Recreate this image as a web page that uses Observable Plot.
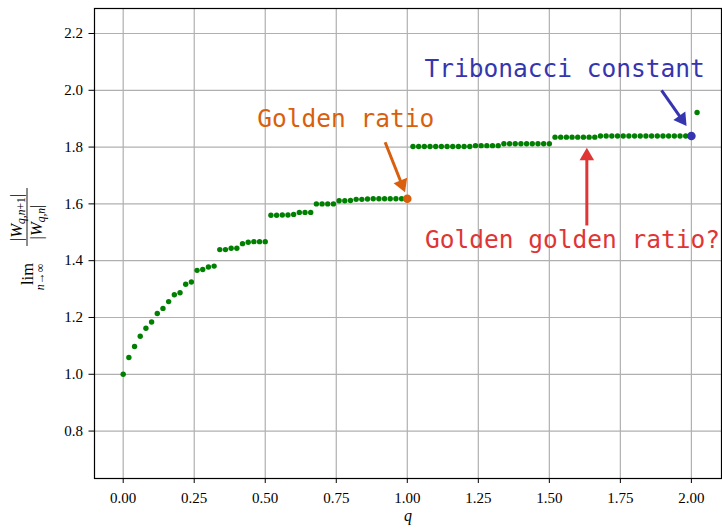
<!DOCTYPE html>
<html>
<head>
<meta charset="utf-8">
<script src="https://cdn.jsdelivr.net/npm/d3@7"></script>
<script src="https://cdn.jsdelivr.net/npm/@observablehq/plot@0.6"></script>
<style>
  html, body { margin: 0; padding: 0; background: white; overflow: hidden; }
  #chart { width: 722px; height: 530px; }
</style>
</head>
<body>
<div id="chart"></div>
<script>
// ---- data ----
const q = [0, 0.02, 0.04, 0.06, 0.08, 0.1, 0.12, 0.14, 0.16, 0.18, 0.2, 0.22, 0.24, 0.26, 0.28, 0.3, 0.32, 0.34, 0.36, 0.38, 0.4, 0.42, 0.44, 0.46, 0.48, 0.5,
  0.52, 0.54, 0.56, 0.58, 0.6, 0.62, 0.64, 0.66, 0.68, 0.7, 0.72, 0.74, 0.76, 0.78, 0.8, 0.82, 0.84, 0.86, 0.88, 0.9, 0.92, 0.94, 0.96, 0.98, 1.0,
  1.02, 1.04, 1.06, 1.08, 1.1, 1.12, 1.14, 1.16, 1.18, 1.2, 1.22, 1.24, 1.26, 1.28, 1.3, 1.32,
  1.34, 1.36, 1.38, 1.4, 1.42, 1.44, 1.46, 1.48, 1.5,
  1.52, 1.54, 1.56, 1.58, 1.6, 1.62, 1.64, 1.66,
  1.68, 1.7, 1.72, 1.74, 1.76, 1.78, 1.8, 1.82, 1.84, 1.86, 1.88, 1.9, 1.92, 1.94, 1.96, 1.98, 2.0,
  2.02];
const ratio = [1.000, 1.059, 1.098, 1.134, 1.162, 1.184, 1.214, 1.232, 1.256, 1.280, 1.287, 1.317, 1.325, 1.366, 1.369, 1.378, 1.381, 1.439, 1.439, 1.444, 1.444, 1.460, 1.465, 1.467, 1.467, 1.467,
  1.560, 1.560, 1.561, 1.561, 1.563, 1.570, 1.570, 1.570, 1.600, 1.600, 1.600, 1.600, 1.611, 1.611, 1.612, 1.616, 1.616, 1.617, 1.618, 1.618, 1.618, 1.618, 1.618, 1.618, 1.618,
  1.802, 1.802, 1.802, 1.802, 1.802, 1.802, 1.802, 1.802, 1.802, 1.802, 1.802, 1.805, 1.805, 1.805, 1.805, 1.805,
  1.812, 1.812, 1.812, 1.812, 1.812, 1.812, 1.812, 1.812, 1.812,
  1.835, 1.835, 1.835, 1.835, 1.835, 1.835, 1.835, 1.835,
  1.839, 1.839, 1.839, 1.839, 1.839, 1.839, 1.839, 1.839, 1.839, 1.839, 1.839, 1.839, 1.839, 1.839, 1.839, 1.839, 1.839,
  1.922];

const highlightQ = [1.0, 2.0];
const highlightRatio = [1.618, 1.839];
const highlightColor = ["#d95f0e", "#3535b0"];

const annoText = ["Golden ratio", "Tribonacci constant", "Golden golden ratio?"];
const annoX = [0.7835, 1.5535, 1.5817];
const annoY = [1.900, 2.073, 1.474];
const annoColor = ["#d95f0e", "#3535b0", "#e03535"];

const arrowTailX = [0.922, 1.895, 1.632];
const arrowTailY = [1.817, 2.000, 1.524];
const arrowTipX = [0.992, 1.983, 1.632];
const arrowTipY = [1.641, 1.874, 1.798];
const arrowColor = ["#d95f0e", "#3535b0", "#e03535"];

const xTicks = [0, 0.25, 0.5, 0.75, 1.0, 1.25, 1.5, 1.75, 2.0];
const yTicks = [0.8, 1.0, 1.2, 1.4, 1.6, 1.8, 2.0, 2.2];

// ---- tables ----
const points = q.map((v, i) => ({q: v, r: ratio[i]}));
const highlights = highlightQ.map((v, i) => ({q: v, r: highlightRatio[i], color: highlightColor[i]}));
const annos = annoText.map((t, i) => ({text: t, x: annoX[i], y: annoY[i], color: annoColor[i]}));
const PX = 1 / 284.1; // data units per pixel (equal aspect on both axes)
const arrows = arrowTailX.map((x1, i) => {
  const y1 = arrowTailY[i], x2 = arrowTipX[i], y2 = arrowTipY[i];
  const dx = x2 - x1, dy = y2 - y1, len = Math.hypot(dx, dy);
  const ux = dx / len, uy = dy / len;
  return {
    x1, y1, color: arrowColor[i],
    sx: x2 - ux * 10 * PX, sy: y2 - uy * 10 * PX,
    hx: x2 - ux * 8.4 * PX, hy: y2 - uy * 8.4 * PX,
    rot: Math.atan2(ux, uy) * 180 / Math.PI
  };
});

const svg = Plot.plot({
  width: 722,
  height: 530,
  marginLeft: 94,
  marginRight: 1,
  marginTop: 8,
  marginBottom: 52,
  x: {domain: [-0.101, 2.106]},
  y: {domain: [0.633, 2.288]},
  color: {type: "identity"},
  style: {fontFamily: "'Liberation Serif', 'DejaVu Serif', serif", fontSize: "15px", background: "white", color: "black"},
  marks: [
    Plot.gridX(xTicks, {stroke: "#b0b0b0", strokeOpacity: 1, strokeWidth: 1.2}),
    Plot.gridY(yTicks, {stroke: "#b0b0b0", strokeOpacity: 1, strokeWidth: 1.2}),
    Plot.axisX(xTicks, {tickFormat: d => d.toFixed(2), tickSize: 5, tickPadding: 9, label: null, fontSize: 15}),
    Plot.axisY(yTicks, {tickFormat: d => d.toFixed(1), tickSize: 5.5, tickPadding: 6, label: null, fontSize: 15}),
    Plot.dot(points, {x: "q", y: "r", r: 2.7, fill: "green", stroke: "none"}),
    Plot.dot(highlights, {x: "q", y: "r", r: 4.3, fill: "color", stroke: "none"}),
    Plot.link(arrows, {x1: "x1", y1: "y1", x2: "sx", y2: "sy", stroke: "color", strokeWidth: 3}),
    Plot.dot(arrows, {x: "hx", y: "hy", symbol: "triangle", r: 5.4, rotate: "rot", fill: "color", stroke: "none"}),
    Plot.text(annos, {x: "x", y: "y", text: "text", fill: "color", fontFamily: "'DejaVu Sans Mono', monospace", fontSize: 24.5, textAnchor: "middle", lineAnchor: "middle"}),
    Plot.text(["q"], {frameAnchor: "bottom", dy: 42, text: d => d, fontStyle: "italic", fontSize: 16}),
    Plot.frame({stroke: "black", strokeWidth: 1.2})
  ]
});
document.getElementById("chart").appendChild(svg);

// ---- rotated y-axis label: lim_{n→∞} |W_{q,n+1}| / |W_{q,n}| ----
const g = d3.select(svg).append("g")
  .attr("transform", "translate(27,243) rotate(-90)")
  .attr("font-family", "'Liberation Serif', 'DejaVu Serif', serif")
  .attr("fill", "black");

const num = g.append("text").attr("x", 25.5).attr("y", -5).attr("text-anchor", "middle").attr("font-size", 16.5);
num.append("tspan").text("|");
num.append("tspan").attr("font-style", "italic").text("W");
num.append("tspan").attr("font-size", 11.5).attr("font-style", "italic").attr("dy", 3).text("q,n");
num.append("tspan").attr("font-size", 11.5).text("+1");
num.append("tspan").attr("dy", -3).text("|");

g.append("line").attr("x1", -3).attr("x2", 55).attr("y1", 0).attr("y2", 0)
  .attr("stroke", "black").attr("stroke-width", 0.9);

const den = g.append("text").attr("x", 21).attr("y", 15).attr("text-anchor", "middle").attr("font-size", 16.5);
den.append("tspan").text("|");
den.append("tspan").attr("font-style", "italic").text("W");
den.append("tspan").attr("font-size", 11.5).attr("font-style", "italic").attr("dy", 3).text("q,n");
den.append("tspan").attr("dy", -3).text("|");

g.append("text").attr("x", -31).attr("y", 6).attr("text-anchor", "middle").attr("font-size", 16.5).text("lim");
const sub = g.append("text").attr("x", -34).attr("y", 17).attr("text-anchor", "middle").attr("font-size", 12);
sub.append("tspan").attr("font-style", "italic").text("n");
sub.append("tspan").text("→∞");
</script>
</body>
</html>
